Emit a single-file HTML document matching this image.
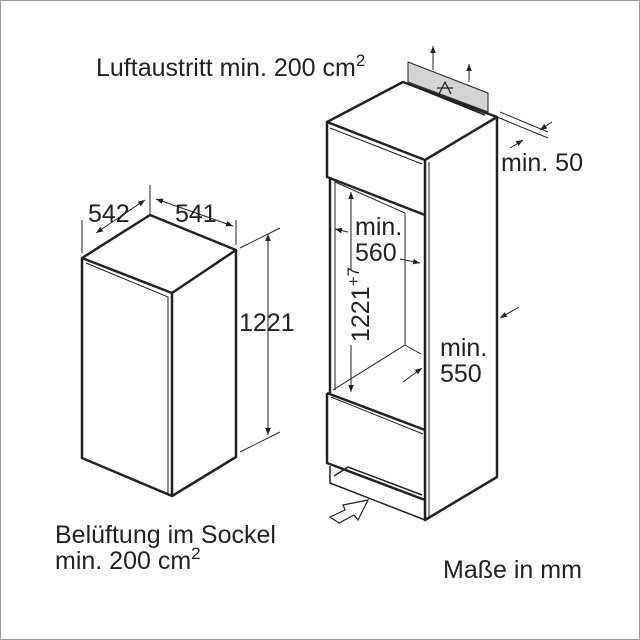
<!DOCTYPE html>
<html><head><meta charset="utf-8"><style>
html,body{margin:0;padding:0;background:#fff}
svg{display:block}
text{font-family:"Liberation Sans",Arial,sans-serif;fill:#222}
</style></head><body>
<svg width="640" height="640" viewBox="0 0 640 640" xmlns="http://www.w3.org/2000/svg">
<defs>
<marker id="a" viewBox="0 0 10 10" refX="10" refY="5" markerWidth="7" markerHeight="7" orient="auto-start-reverse"><path d="M0,1 L10,5 L0,9 Z" fill="#222"/></marker>
</defs>
<rect x="0.5" y="0.5" width="639" height="639" fill="#fff" stroke="#999"/>
<g stroke="#222" fill="none" stroke-linejoin="round">
<path d="M82,258 L150,215 L236,250 L172,293 Z" stroke-width="2.5"/>
<path d="M82,258 L82,458 L172,496 L236,457 L236,250" stroke-width="2.5"/>
<path d="M172,293 L172,496" stroke-width="2.5"/>
<path d="M86,263 L168,297 L168,494" stroke-width="1"/>
<path d="M150,185 L150,215 M82,220 L82,253 M236,220 L236,245" stroke-width="1"/>
<path d="M96,233 L145,200" stroke-width="1" marker-start="url(#a)" marker-end="url(#a)"/>
<path d="M156,199 L233,226" stroke-width="1" marker-start="url(#a)" marker-end="url(#a)"/>
<path d="M240,248 L280,228 M240,452 L280,432" stroke-width="1"/>
<path d="M268,234 L268,435" stroke-width="1" marker-start="url(#a)" marker-end="url(#a)"/>
<path d="M327,122 L403,82 L497,117 L425,160 Z" stroke-width="2.5" fill="#fff"/>
<path d="M327,122 L327,177 L425,215 L425,160" stroke-width="2.5"/>
<path d="M330,128 L422,164" stroke-width="1"/>
<path d="M497,117 L497,477 L425,520 L425,215" stroke-width="2.5"/>
<path d="M429,162 L429,518" stroke-width="1"/>
<path d="M330,177 L330,393" stroke-width="2.5"/>
<path d="M335,180 L335,390 M335,182 L405,213" stroke-width="1"/>
<path d="M405,213 L405,345 L333,390 M405,345 L421,354" stroke-width="1"/>
<path d="M327,393 L327,463 L425,500 M327,393 L425,430" stroke-width="2.5"/>
<path d="M331,397 L423,434" stroke-width="1"/>
<path d="M330,466 L330,483 L425,520 M334,476 L348,467 L422,495" stroke-width="1.5"/>
<path d="M408,62 L488,93 L488,112 L408,82 Z" fill="#d4d4d4" stroke-width="1"/>
<path d="M403,82 L485,115" stroke-width="1.5"/>
<path d="M433,70 L433,46" stroke-width="1" marker-end="url(#a)"/>
<path d="M469,82 L469,64" stroke-width="1" marker-end="url(#a)"/>
<path d="M439,94 L445,82 L451,94 M437,88 L453,88" stroke-width="1.3"/>
<path d="M497,117 L548,138 M500,112 L548,132" stroke-width="1"/>
<path d="M510,148 L523,140" stroke-width="1" marker-end="url(#a)"/>
<path d="M552,122 L540,130" stroke-width="1" marker-end="url(#a)"/>
<path d="M351,270 L351,192" stroke-width="1" marker-end="url(#a)"/>
<path d="M351,345 L351,392" stroke-width="1" marker-end="url(#a)"/>
<path d="M348,232 L335,229" stroke-width="1" marker-end="url(#a)"/>
<path d="M400,259 L420,263" stroke-width="1" marker-end="url(#a)"/>
<path d="M403,382 L422,368" stroke-width="1" marker-end="url(#a)"/>
<path d="M519,307 L500,318" stroke-width="1" marker-end="url(#a)"/>
</g>
<path d="M330,517 L345,510 L343,505 L368,500 L358,520 L354,515 L339,523 Z" fill="#fff" stroke="#222" stroke-width="1.2"/>
<text x="96" y="76" font-size="25">Luftaustritt min. 200 cm<tspan font-size="17" dy="-10">2</tspan></text>
<text x="88" y="222" font-size="25">542</text>
<text x="175" y="222" font-size="25">541</text>
<text x="239" y="331" font-size="25">1221</text>
<text x="355" y="235" font-size="25">min.</text>
<text x="355" y="261" font-size="25">560</text>
<text transform="translate(369,342) rotate(-90)" font-size="25">1221<tspan font-size="17" dy="-10">+7</tspan></text>
<text x="501" y="171" font-size="25">min. 50</text>
<text x="440" y="356" font-size="25">min.</text>
<text x="440" y="382" font-size="25">550</text>
<text x="55" y="543" font-size="25">Belüftung im Sockel</text>
<text x="55" y="569" font-size="25">min. 200 cm<tspan font-size="17" dy="-10">2</tspan></text>
<text x="443" y="578" font-size="25">Maße in mm</text>
</svg>
</body></html>
